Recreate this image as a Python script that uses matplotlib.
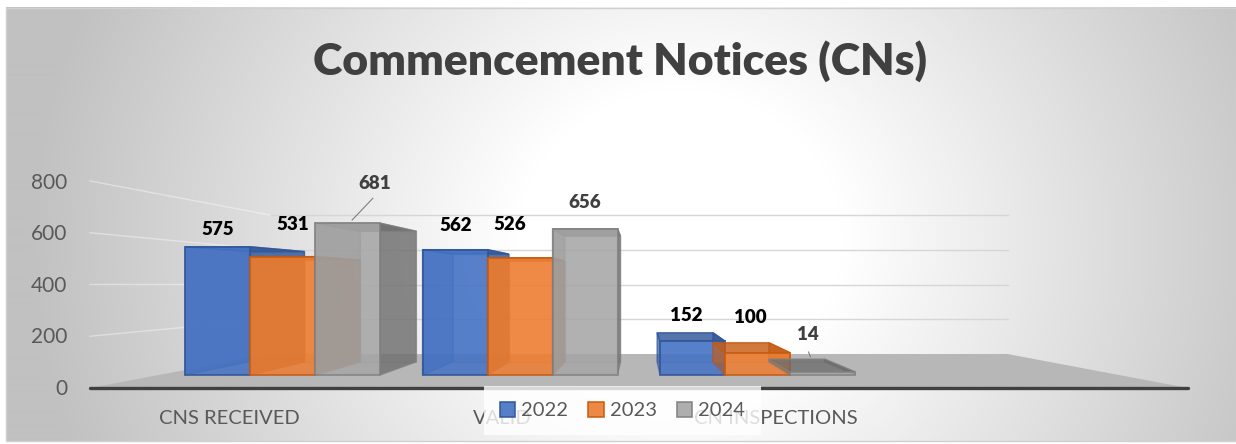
import numpy as np
import matplotlib
matplotlib.use('Agg')
import matplotlib.pyplot as plt
from matplotlib.patches import Polygon, Patch, Rectangle
from matplotlib.lines import Line2D
import matplotlib.transforms as mtransforms

# ---------------- data ----------------
categories = ['CNS RECEIVED', 'VALID', 'CN INSPECTIONS']
series_names = ['2022', '2023', '2024']
values_2022 = [575, 562, 152]
values_2023 = [531, 526, 100]
values_2024 = [681, 656, 14]
y_ticks = [0, 200, 400, 600, 800]
title = 'Commencement Notices (CNs)'

plt.rcParams['font.family'] = ['Lato', 'DejaVu Sans']

W, H, DPI = 1236, 444, 100
fig = plt.figure(figsize=(W / DPI, H / DPI), dpi=DPI)
fig.patch.set_facecolor('white')

# ---------------- background (gradient chart area) ----------------
ax_bg = fig.add_axes([0, 0, 1, 1])
ax_bg.set_xlim(0, W)
ax_bg.set_ylim(H, 0)
ax_bg.axis('off')
cx0, cy0, cx1, cy1 = 6, 8, W, 441
yy, xx = np.mgrid[cy0:cy1, cx0:cx1]
d = np.sqrt(((xx - 680) / 650.0) ** 2 + ((yy - 240) / 600.0) ** 2)
t = np.clip((d - 0.25) / 0.75, 0, 1)
g = (255 - 62 * t) / 255.0
ax_bg.imshow(np.dstack([g, g, g]), extent=(cx0, cx1, cy1, cy0), aspect='auto',
             interpolation='bilinear', zorder=0)
ax_bg.add_patch(Rectangle((cx0, cy0), cx1 - cx0, cy1 - cy0, fill=False,
                          edgecolor='#d0d0d0', lw=1, zorder=1))

# ---------------- main (front plane) axes ----------------
PX_X0, PX_DX = 282.5, 237.5      # pixel of category 0, pixel per category
PX_Y0, PX_U = 375.0, 0.223        # pixel of value 0 (front plane), pixel per unit
ax = fig.add_axes([0, 0, 1, 1])
ax.patch.set_alpha(0)
ax.axis('off')
ax.set_xlim((0 - PX_X0) / PX_DX, (W - PX_X0) / PX_DX)
ax.set_ylim((PX_Y0 - H) / PX_U, PX_Y0 / PX_U)

def dx(px):
    return (px - PX_X0) / PX_DX

def dy(py):
    return (PX_Y0 - py) / PX_U

VX, VY = 1.5, dy(281)   # vanishing point
K_BAR = 0.86

def proj(p, k):
    return (VX + k * (p[0] - VX), VY + k * (p[1] - VY))

# floor
floor_front_y = dy(388)
floor_back_y = dy(354)
fl_x0, fl_x1 = dx(90), dx(1188)
fb_x0, fb_x1 = dx(270), dx(1007.5)
ax.add_patch(Polygon([(fl_x0, floor_front_y), (fl_x1, floor_front_y),
                      (fb_x1, floor_back_y), (fb_x0, floor_back_y)],
                     closed=True, facecolor='#b7b7b7', edgecolor='none', zorder=1))
ax.add_line(Line2D([fl_x0, fl_x1], [floor_front_y, floor_front_y], color='#404040',
                   lw=2.4, solid_capstyle='round', zorder=2))

# walls: gridlines
WALL_SCALE = 0.1737 / PX_U
TICK_SCALE = 0.2588 / PX_U
for v in y_ticks[1:]:
    yb = floor_back_y + v * WALL_SCALE
    yf = floor_front_y + v * TICK_SCALE
    ax.add_line(Line2D([fb_x0, fb_x1], [yb, yb], color='#d6d6d6', lw=1.0, zorder=1))
    ax.add_line(Line2D([fl_x0, fb_x0], [yf, yb], color='white', lw=1.0, alpha=0.4, zorder=1))

# ---------------- bars ----------------
series_vals = [values_2022, values_2023, values_2024]
face_cols = ['#4472C4', '#ED7D31', '#A5A5A5']
edge_cols = ['#2F5597', '#C55A11', '#7F7F7F']
dark_cols = ['#2F5597', '#C55A11', '#6A6A6A']
front_alpha = [0.85, 0.85, 0.8]
bar_w = 65.0 / PX_DX
x_pos = np.arange(len(categories))

z = 3
for j in range(len(categories)):
    for s in range(len(series_names)):
        val = series_vals[s][j]
        xc = x_pos[j] + (s - 1) * bar_w
        x0, x1 = xc - bar_w / 2, xc + bar_w / 2
        FL0, FR0, FR1, FL1 = (x0, 0), (x1, 0), (x1, val), (x0, val)
        BL0, BR0, BR1, BL1 = [proj(p, K_BAR) for p in (FL0, FR0, FR1, FL1)]
        ec = edge_cols[s]
        ax.add_patch(Polygon([BL0, BR0, BR1, BL1], closed=True, facecolor=face_cols[s],
                             alpha=0.3, edgecolor=ec, lw=1.0, zorder=z))
        ax.add_patch(Polygon([FL0, BL0, BL1, FL1], closed=True, facecolor=dark_cols[s],
                             alpha=0.55, edgecolor=ec, lw=1.0, zorder=z + 0.1))
        ax.add_patch(Polygon([FR0, BR0, BR1, FR1], closed=True, facecolor=dark_cols[s],
                             alpha=0.75, edgecolor=ec, lw=1.0, zorder=z + 0.2))
        ax.add_patch(Polygon([FL1, FR1, BR1, BL1], closed=True, facecolor=dark_cols[s],
                             alpha=0.75, edgecolor=ec, lw=1.0, zorder=z + 0.3))
        ax.bar(xc, val, width=bar_w, bottom=0, color=face_cols[s], alpha=front_alpha[s],
               edgecolor=ec, linewidth=1.3, zorder=z + 0.4)
        z += 1

# ---------------- data labels ----------------
label_offsets = [[(0, -17), (1, -24), (-6, -26)],
                 [(10, -32), (-10, -33), (-7, -35)],
                 [(27, -40), (0, -26), (-15, -37)]]
label_cols = ['black', 'black', '#404040']
leaders = {(2, 0): ((4.5, -3), (25.5, -25)), (2, 2): ((-12, -15), (-14, -20))}
for s in range(len(series_names)):
    for j in range(len(categories)):
        val = series_vals[s][j]
        xc = x_pos[j] + (s - 1) * bar_w
        ox, oy = label_offsets[s][j]
        ax.annotate(str(val), xy=(xc, val), xytext=(ox, -oy), textcoords='offset pixels',
                    ha='center', va='center', fontsize=13.5, fontweight='heavy',
                    color=label_cols[s], zorder=40)
        if (s, j) in leaders:
            (sx, sy), (ex, ey) = leaders[(s, j)]
            tr = mtransforms.offset_copy(ax.transData, fig=fig, x=sx, y=-sy, units='dots')
            ax.annotate('', xy=(xc, val), xycoords=tr, xytext=(ex - sx, -(ey - sy)),
                        textcoords='offset pixels',
                        arrowprops=dict(arrowstyle='-', color='#7f7f7f', lw=0.8,
                                        shrinkA=0, shrinkB=0), zorder=40)

# ---------------- category labels ----------------
CAT_SCALE = 1.15
for j, name in enumerate(categories):
    ax.text(VX + CAT_SCALE * (x_pos[j] - VX), dy(418.5), name, ha='center', va='center',
            fontsize=14.5, color='#595959', zorder=30)

# ---------------- y tick axis (left wall front edge) ----------------
t_bottom_px, t_top_px = 386.5, 180.5
ax_t = fig.add_axes([88 / W, 1 - t_bottom_px / H, 0.005, (t_bottom_px - t_top_px) / H])
ax_t.set_ylim(0, 800)
ax_t.set_yticks(y_ticks)
ax_t.set_yticklabels([str(v) for v in y_ticks])
ax_t.set_xticks([])
ax_t.tick_params(axis='y', length=0, pad=15, labelsize=15, labelcolor='#595959')
for sp in ax_t.spines.values():
    sp.set_visible(False)
ax_t.patch.set_alpha(0)

# ---------------- legend ----------------
handles = [Patch(facecolor=face_cols[s], edgecolor=edge_cols[s], alpha=0.9, lw=1.2)
           for s in range(len(series_names))]
leg = ax.legend(handles, series_names, ncol=3, loc='center',
                bbox_to_anchor=(622.5 / W, 1 - 410.5 / H), bbox_transform=fig.transFigure,
                frameon=True, fancybox=False, fontsize=14.5, handlelength=0.75,
                handleheight=0.75, handletextpad=0.3, columnspacing=1.0, borderpad=0.8,
                labelcolor='#595959')
leg.get_frame().set_linewidth(0)
leg.get_frame().set_facecolor((1, 1, 1, 0.85))
leg.set_zorder(50)

# ---------------- title ----------------
fig.text(620 / W, 1 - 75 / H, title, ha='center', va='baseline', fontsize=32,
         fontweight='heavy', color='#404040')

fig.savefig('out.png', dpi=DPI)
